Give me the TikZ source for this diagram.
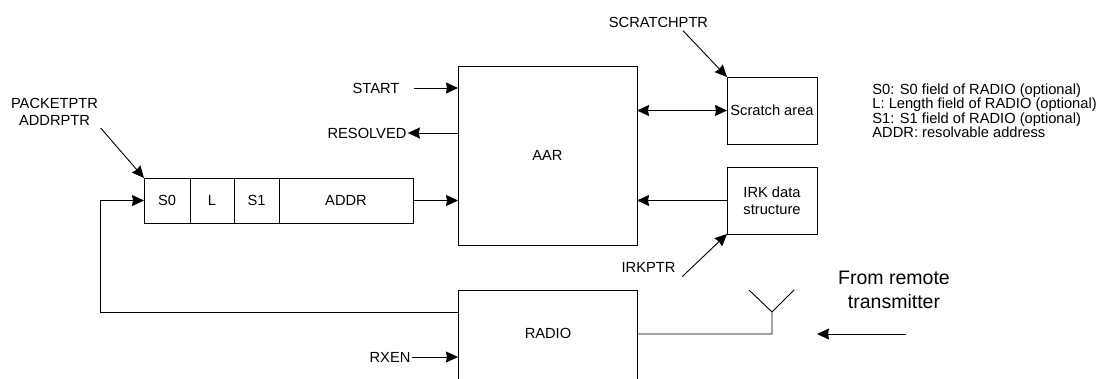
\documentclass[tikz,border=0pt]{standalone}
\usepackage{fontspec}
\setmainfont{Liberation Sans}
\usetikzlibrary{positioning, arrows.meta}

\begin{document}
\begin{tikzpicture}[
    x=1pt, y=-1pt,
    line width=0.9pt,
    every node/.style={font=\fontsize{14.67}{17}\selectfont, inner sep=1pt},
    block/.style={rectangle, draw=black, line width=0.9pt, outer sep=0pt},
    field/.style={rectangle, draw=black, line width=0.9pt, minimum height=45, outer sep=0pt},
    arr/.style={-{Stealth[length=12pt, width=11pt, inset=1pt]}},
    darr/.style={{Stealth[length=12pt, width=11pt, inset=1pt]}-{Stealth[length=12pt, width=11pt, inset=1pt]}},
    bigtext/.style={align=center, font=\fontsize{19.5}{24}\selectfont},
    legendtext/.style={align=left, anchor=north west, font=\fontsize{14.67}{14.5}\selectfont, inner sep=0pt}
]
\clip (0,0) rectangle (1099,378);

% Nodes
\node[block, minimum width=179, minimum height=179] (aar) at (547.5,155.5) {AAR};
\node[block, minimum width=90, minimum height=67] (scr) at (772,110.5) {Scratch area};
\node[block, minimum width=90, minimum height=67, align=center] (irk) at (772,200.5) {IRK data\\structure};
\node[block, minimum width=179, minimum height=179, anchor=north west] (radio) at (458,290) {};
\node (radiotxt) at (548,333) {RADIO};

% Packet fields
\node[field, minimum width=46, anchor=west] (s0) at (144,200.5) {S0};
\node[field, minimum width=44, right=0pt of s0] (len) {L};
\node[field, minimum width=45, right=0pt of len] (s1) {S1};
\node[field, minimum width=134, right=0pt of s1] (addr) {ADDR};

% Labels
\node (start) at (376,88) {START};
\node (resolved) at (367,133) {RESOLVED};
\node[align=center] (pktptr) at (54.5,111.5) {PACKETPTR\\ADDRPTR};
\node (scrptr) at (658.5,22) {SCRATCHPTR};
\node (irkptr) at (648.5,267) {IRKPTR};
\node (rxen) at (390,357) {RXEN};
\node[bigtext] (fromtx) at (894,290) {From remote\\transmitter};
\node[legendtext] (legend) at (872,83) {S0: S0 field of RADIO (optional)\\L: Length field of RADIO (optional)\\S1: S1 field of RADIO (optional)\\ADDR: resolvable address};

\coordinate (loop) at (100,312);
\coordinate (ant) at (772,334);
\coordinate (remote) at (906,334);

% Edges
\draw[arr, shorten <=13pt] (start) -- (start -| aar.west);
\draw[arr] (aar.west |- resolved) -- (resolved);
\draw[arr] (addr) -- (addr -| aar.west);
\draw[darr] (aar.east |- scr) -- (scr);
\draw[arr] (irk) -- (irk -| aar.east);
\draw[arr, shorten <=2pt] (pktptr.south east) -- (s0.north west);
\draw[arr] ([xshift=24.5pt, yshift=-2pt]scrptr.south) -- (scr.north west);
\draw[arr] ([xshift=5.5pt, yshift=-3pt]irkptr.south east) -- (irk.south west);
\draw[arr] (rxen) -- (rxen -| radio.west);
\draw[arr] (loop -| radio.west) -- (loop) |- (s0);

% Antenna
\draw (radio.east |- ant) -- (ant) -- ++(0,-22) coordinate (top) -- ++(-23,-22);
\draw (top) -- ++(22,-22);
\draw[arr] (remote) -- (remote -| irk.east);

\end{tikzpicture}
\end{document}
